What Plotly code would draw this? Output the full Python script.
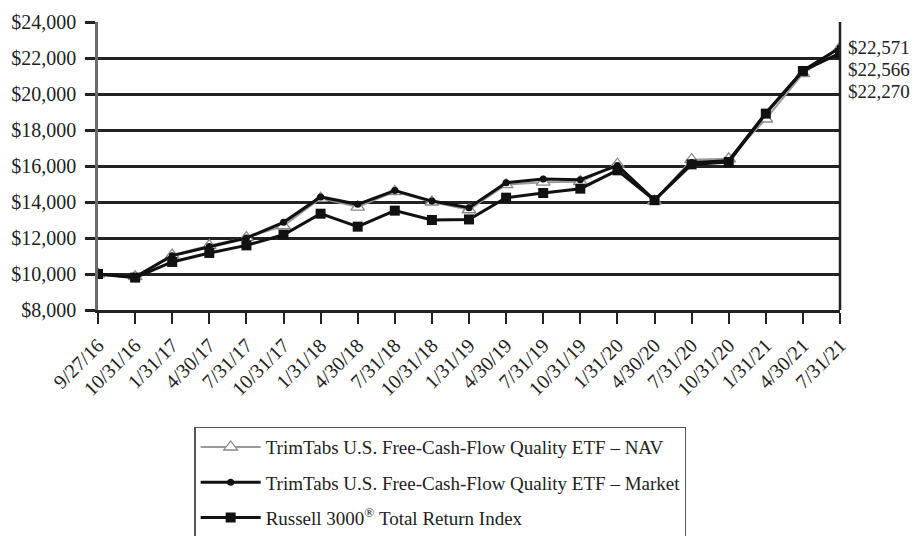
import plotly.graph_objects as go

dates = ["9/27/16", "10/31/16", "1/31/17", "4/30/17", "7/31/17", "10/31/17", "1/31/18",
         "4/30/18", "7/31/18", "10/31/18", "1/31/19", "4/30/19", "7/31/19", "10/31/19",
         "1/31/20", "4/30/20", "7/31/20", "10/31/20", "1/31/21", "4/30/21", "7/31/21"]

nav = [10000, 9850, 11050, 11580, 12020, 12680, 14200, 13720, 14580, 14000, 13570,
       14960, 15100, 15130, 16100, 14050, 16350, 16400, 18610, 21130, 22571]
market = [10000, 9830, 11020, 11530, 12000, 12870, 14280, 13870, 14640, 14050, 13680,
          15070, 15280, 15240, 16030, 14100, 16200, 16290, 18940, 21290, 22566]
russell = [10000, 9800, 10670, 11170, 11590, 12180, 13350, 12630, 13520, 13000, 13030,
           14240, 14500, 14740, 15760, 14100, 16090, 16220, 18910, 21280, 22270]

end_labels = ["$22,571", "$22,566", "$22,270"]
end_values = [22571, 22566, 22270]

names = ["TrimTabs U.S. Free-Cash-Flow Quality ETF \u2013 NAV",
         "TrimTabs U.S. Free-Cash-Flow Quality ETF \u2013 Market",
         "Russell 3000<sup>\u00ae</sup> Total Return Index"]

FONT = "Liberation Serif"

fig = go.Figure()
fig.add_trace(go.Scatter(
    x=dates, y=nav, name=names[0], mode="lines+markers", legendgroup="a",
    line=dict(color="#9a9a9a", width=2),
    marker=dict(symbol="triangle-up", size=12, color="white",
                line=dict(color="#8a8a8a", width=1.3)),
))
fig.add_trace(go.Scatter(
    x=dates, y=market, name=names[1], mode="lines+markers", legendgroup="b",
    line=dict(color="#111111", width=3),
    marker=dict(symbol="circle", size=7, color="#111111"),
))
fig.add_trace(go.Scatter(
    x=dates, y=russell, name=names[2], mode="lines+markers", legendgroup="c",
    line=dict(color="#111111", width=3),
    marker=dict(symbol="square", size=10, color="#111111"),
))

shifts = [0, -22, -44]
for lab, sh in zip(end_labels, shifts):
    fig.add_annotation(x=dates[-1], y=end_values[0], text=lab, showarrow=False,
                       xanchor="left", yanchor="middle", xshift=6, yshift=sh,
                       font=dict(family=FONT, size=19, color="#222222"))

# right border
fig.add_shape(type="line", xref="paper", yref="paper", x0=1, x1=1, y0=0, y1=1,
              line=dict(color="#222222", width=2.5))

fig.update_xaxes(
    type="category", range=[0, len(dates) - 1], automargin=False,
    showgrid=False, showline=True, linecolor="#222222", linewidth=2.5,
    ticks="outside", ticklen=11, tickwidth=2, tickcolor="#222222",
    ticklabelstandoff=2,
    tickangle=-45, tickfont=dict(family=FONT, size=20, color="#222222"),
)
fig.update_yaxes(
    range=[8000, 24000], dtick=2000, tickprefix="$", tickformat=",", automargin=False,
    showgrid=True, gridcolor="#222222", gridwidth=2.5,
    showline=True, linecolor="#6a6a6a", linewidth=2.5,
    ticks="outside", ticklen=10, tickwidth=2.5, tickcolor="#222222",
    ticklabelstandoff=5,
    tickfont=dict(family=FONT, size=20, color="#222222"), zeroline=False,
)

fig.update_layout(
    width=911, height=528,
    margin=dict(l=90, r=79, t=14, b=226, autoexpand=False),
    plot_bgcolor="white", paper_bgcolor="white",
    font=dict(family=FONT, size=19, color="#222222"),
    showlegend=True,
    legend=dict(x=0.13, y=-0.406, xanchor="left", yanchor="top",
                bgcolor="white", bordercolor="#555555", borderwidth=1.2,
                font=dict(family=FONT, size=19, color="#222222"),
                traceorder="grouped", itemwidth=60, tracegroupgap=7.5),
)

fig.write_html("out.html")
